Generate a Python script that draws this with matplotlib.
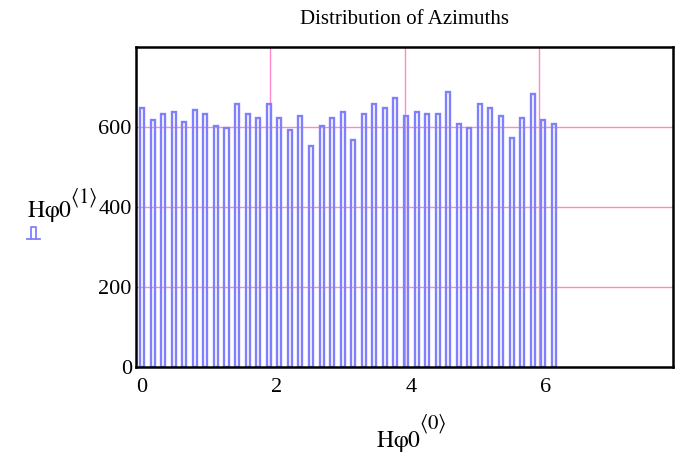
import numpy as np
import matplotlib
matplotlib.use('Agg')
import matplotlib.pyplot as plt
from matplotlib.lines import Line2D

plt.rcParams['font.family'] = ['Liberation Serif', 'DejaVu Serif']
plt.rcParams['mathtext.fontset'] = 'stix'

# histogram of azimuths: 40 bins over [0, 2*pi)
N_BINS = 40
bin_pos = np.arange(N_BINS) * 2 * np.pi / N_BINS
counts = [647, 617, 632, 637, 612, 642, 632, 602, 597, 657,
          632, 622, 657, 622, 592, 627, 552, 602, 622, 637,
          567, 632, 657, 647, 672, 627, 637, 632, 632, 687,
          607, 597, 657, 647, 627, 572, 622, 682, 617, 607]

x_ticks = [0, 2, 4, 6]
y_ticks = [0, 200, 400, 600]
XMIN, XMAX = -0.09, 7.90
YMIN, YMAX = 0, 800

BAR_COLOR = '#8080ff'
GRID_COLOR = '#ff88c8'

fig = plt.figure(figsize=(6.75, 4.54), dpi=100)
ax = fig.add_axes([136 / 675, 1 - 367 / 454, (673 - 136) / 675, (367 - 47) / 454])

# Mathcad-style grid: axis range split into 4 equal parts
for k in range(1, 4):
    ax.axvline(XMIN + k * (XMAX - XMIN) / 4, color=GRID_COLOR, lw=1.0, zorder=0)
    ax.axhline(YMIN + k * (YMAX - YMIN) / 4, color=GRID_COLOR, lw=1.0, zorder=0)

ax.bar(bin_pos, counts, width=0.06, fill=False, edgecolor=BAR_COLOR,
       linewidth=1.7, align='center', zorder=2)

ax.set_xlim(XMIN, XMAX)
ax.set_ylim(YMIN, YMAX)
ax.set_xticks(x_ticks)
ax.set_yticks(y_ticks)
ax.tick_params(length=0, labelsize=16)
ax.tick_params(axis='y', pad=3)
ax.tick_params(axis='x', pad=8)
for sp in ax.spines.values():
    sp.set_linewidth(1.8)
    sp.set_color('black')

fig.text(405 / 675, 1 - 20 / 454, 'Distribution of Azimuths', ha='center',
         va='center', fontsize=15)


def fx(p):
    return p / 675


def fy(p):
    return 1 - p / 454


# y label with Mathcad-style column superscript
fig.text(fx(27), fy(217), r'$\mathrm{H\varphi 0}$', ha='left', va='baseline', fontsize=17)
fig.text(fx(70), fy(198), r'$\langle 1\rangle$', ha='left', va='center', fontsize=15)

# x label
fig.text(fx(421), fy(447), r'$\mathrm{H\varphi 0}$', ha='right', va='baseline', fontsize=17)
fig.text(fx(419), fy(424), r'$\langle 0\rangle$', ha='left', va='center', fontsize=15)

# small trace-style legend glyph under the y label
fig.add_artist(Line2D([fx(27), fx(40)], [fy(239), fy(239)], color=BAR_COLOR, lw=1.3))
fig.add_artist(Line2D([fx(31), fx(31), fx(36), fx(36)],
                      [fy(239), fy(227), fy(227), fy(239)], color=BAR_COLOR, lw=1.3))

fig.savefig('out.png', dpi=100)
